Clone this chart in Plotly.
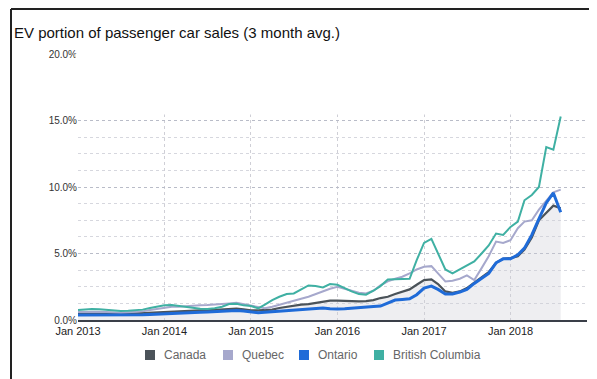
import pandas as pd
import plotly.graph_objects as go

months = pd.date_range("2013-01-01", "2018-08-01", freq="MS")

canada = [0.5,0.5,0.52,0.5,0.48,0.45,0.45,0.47,0.5,0.52,0.55,0.6,
          0.62,0.65,0.68,0.68,0.7,0.72,0.72,0.75,0.8,0.85,0.85,0.8,
          0.72,0.72,0.75,0.78,0.9,1.0,1.05,1.15,1.2,1.3,1.4,1.45,
          1.45,1.42,1.4,1.4,1.42,1.5,1.65,1.75,1.95,2.1,2.3,2.65,
          3.0,3.05,2.7,2.15,2.05,2.15,2.4,2.8,3.2,3.6,4.3,4.6,
          4.65,4.8,5.3,6.2,7.5,8.1,8.6,8.4]
quebec = [0.6,0.62,0.65,0.62,0.6,0.55,0.55,0.58,0.6,0.65,0.75,0.85,
          0.95,1.0,1.0,1.05,1.05,1.1,1.12,1.15,1.2,1.25,1.3,1.2,
          1.1,0.95,0.88,1.0,1.15,1.35,1.5,1.6,1.75,1.95,2.1,2.35,
          2.5,2.35,2.2,2.05,2.0,2.2,2.6,2.9,3.1,3.25,3.5,3.8,
          4.0,4.05,3.5,2.9,2.95,3.1,3.35,3.0,3.9,4.8,5.9,5.8,
          6.0,6.9,7.4,7.5,8.3,9.0,9.6,9.8]
ontario = [0.38,0.38,0.4,0.38,0.36,0.35,0.35,0.36,0.38,0.4,0.42,0.45,
           0.48,0.5,0.52,0.52,0.55,0.58,0.6,0.62,0.65,0.7,0.72,0.68,
           0.6,0.55,0.58,0.62,0.65,0.7,0.75,0.8,0.85,0.88,0.9,0.85,
           0.82,0.85,0.9,0.95,1.0,1.02,1.05,1.3,1.5,1.55,1.6,1.9,
           2.4,2.55,2.3,1.95,1.95,2.1,2.3,2.75,3.1,3.5,4.3,4.6,
           4.6,4.9,5.4,6.4,7.6,8.8,9.55,8.1]
british_columbia = [0.75,0.8,0.82,0.8,0.75,0.7,0.68,0.7,0.72,0.78,0.9,1.02,
                    1.1,1.12,1.05,0.95,0.88,0.85,0.82,0.88,1.0,1.2,1.22,1.1,
                    1.05,0.88,1.15,1.5,1.75,1.95,2.0,2.3,2.6,2.55,2.45,2.7,
                    2.65,2.4,2.15,1.95,1.9,2.2,2.55,3.05,3.05,3.05,3.1,4.5,
                    5.8,6.1,5.0,3.8,3.5,3.8,4.1,4.4,5.0,5.6,6.5,6.4,
                    7.0,7.4,9.0,9.4,10.0,13.0,12.8,15.3]

y_ticks = [0, 5, 10, 15, 20]
y_tick_labels = ["0.0%", "5.0%", "10.0%", "15.0%", "20.0%"]

series = [
    ("Canada", canada, "#4b5359", 2.2),
    ("Quebec", quebec, "#a6a8cc", 2.0),
    ("Ontario", ontario, "#1f6bd8", 3.0),
    ("British Columbia", british_columbia, "#3fb0a3", 2.0),
]

# layout geometry (figure px); page body adds an 8px offset
ML, MR, MT, MB = 70, 18, 46, 67
W, H = 597, 379
PW, PH = W - ML - MR, H - MT - MB


def px(page_x):
    return (page_x - 8 - ML) / PW


def py(page_y):
    return (H - MB - (page_y - 8)) / PH


fig = go.Figure()
for name, vals, color, width in series:
    kw = {}
    if name == "Canada":
        kw = dict(fill="tozeroy", fillcolor="rgba(205,205,215,0.35)")
    fig.add_trace(go.Scatter(x=months, y=vals, mode="lines", name=name,
                             line=dict(color=color, width=width),
                             showlegend=False, **kw))

fig.update_layout(
    width=W, height=H,
    margin=dict(l=ML, r=MR, t=MT, b=MB),
    paper_bgcolor="white", plot_bgcolor="white",
    font=dict(family="Liberation Sans, Arial, sans-serif", color="#333"),
    title=dict(text="EV portion of passenger car sales (3 month avg.)",
               x=6/597, xanchor="left", y=1-25/379, yanchor="middle",
               font=dict(size=15, color="#111")),
    showlegend=False,
    xaxis=dict(type="date", range=["2013-01-01", "2018-11-20"],
               dtick="M12", tick0="2013-01-01", tickformat="%b %Y",
               showgrid=True, gridcolor="#cfcfd6", griddash="dot", gridwidth=1,
               showline=True, linecolor="#3a3f48", linewidth=2,
               ticks="", tickfont=dict(size=11, color="#222"), zeroline=False),
    yaxis=dict(range=[0, 20], tickvals=y_ticks, ticktext=y_tick_labels,
               showgrid=True, gridcolor="#b9bcc8", griddash="dot", gridwidth=1,
               minor=dict(dtick=1.25, tick0=0, showgrid=True, gridcolor="#d6d7de",
                          griddash="dot", gridwidth=1),
               ticks="", tickfont=dict(size=10, color="#333"), zeroline=False,
               showline=False),
)

# legend (square swatch + label), laid out like the reference
legend_square_x = [150, 228, 304, 379]
legend_y = 355
for (name, vals, color, width), sx in zip(series, legend_square_x):
    fig.add_shape(type="rect", xref="paper", yref="paper",
                  x0=px(sx - 5), x1=px(sx + 5), y0=py(legend_y + 5), y1=py(legend_y - 5),
                  fillcolor=color, line=dict(width=0))
    fig.add_annotation(text=name, xref="paper", yref="paper", x=px(sx + 12), y=py(legend_y),
                       xanchor="left", yanchor="middle", showarrow=False,
                       font=dict(size=12, color="#666"))

# hide grid above 15% as in the reference (kept clear of the data)
fig.add_shape(type="rect", xref="paper", yref="y", x0=-0.005, x1=1.01, y0=15.45, y1=20.3,
              fillcolor="white", line=dict(width=0), layer="above")
# scan frame
fig.add_shape(type="line", xref="paper", yref="paper", x0=px(11), x1=px(11),
              y0=py(9), y1=py(420), line=dict(color="#222", width=2))
fig.add_shape(type="line", xref="paper", yref="paper", x0=px(11), x1=px(640),
              y0=py(9), y1=py(9), line=dict(color="#222", width=2))

fig.write_html("out.html")
